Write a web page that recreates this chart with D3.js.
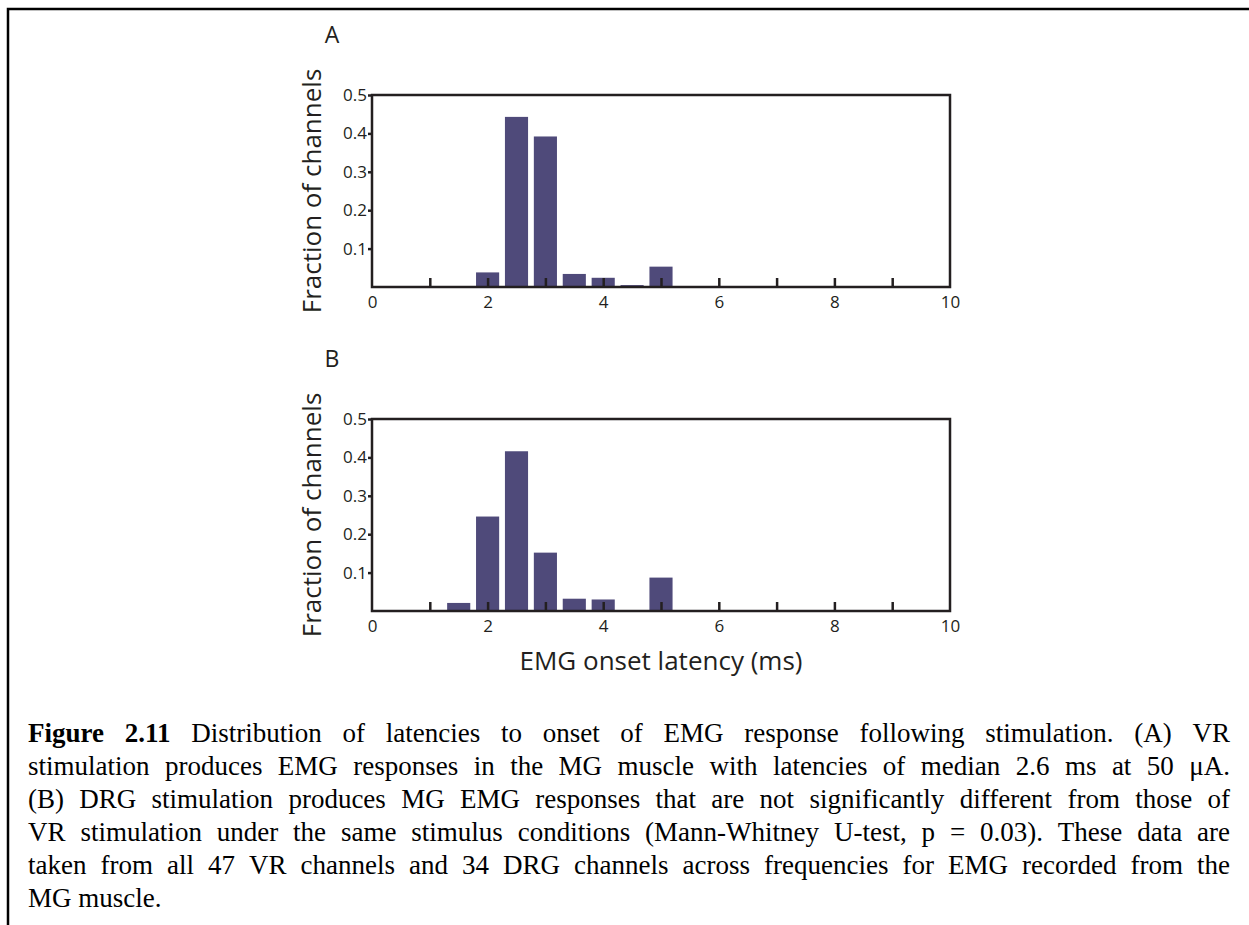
<!DOCTYPE html>
<html>
<head>
<meta charset="utf-8">
<script src="https://cdn.jsdelivr.net/npm/d3@7"></script>
<style>
  body { margin: 0; background: #fff; }
</style>
</head>
<body>
<div id="chart"></div>
<script>
// histogram bins (ms) and fraction of channels per bin
var binCenters = [1.5, 2, 2.5, 3, 3.5, 4, 4.5, 5];
var fractionVR = [0, 0.038, 0.443, 0.392, 0.034, 0.024, 0.005, 0.053];
var fractionDRG = [0.021, 0.246, 0.416, 0.152, 0.032, 0.030, 0, 0.087];
var panelNames = ["A", "B"];

var yTicks = [0.1, 0.2, 0.3, 0.4, 0.5];
var xLabelTicks = [0, 2, 4, 6, 8, 10];
var xInnerTicks = [1, 2, 3, 4, 5, 6, 7, 8, 9];

var yTitle = "Fraction of channels";
var xTitle = "EMG onset latency (ms)";

var captionLines = [
	"Figure 2.11 Distribution of latencies to onset of EMG response following stimulation. (A) VR",
	"stimulation produces EMG responses in the MG muscle with latencies of median 2.6 ms at 50 \u03bcA.",
	"(B) DRG stimulation produces MG EMG responses that are not significantly different from those of",
	"VR stimulation under the same stimulus conditions (Mann-Whitney U-test, p = 0.03). These data are",
	"taken from all 47 VR channels and 34 DRG channels across frequencies for EMG recorded from the",
	"MG muscle."
];

(function() {
	var W = 1249, H = 925;
	var ink = "#231f20";
	var barColor = "#4f4a7a";
	var sans = "'Open Sans', 'Noto Sans', sans-serif";

	var plotLeft = 372, plotW = 578, plotH = 192;
	var panelTops = [95, 419];
	var series = [fractionVR, fractionDRG];

	var svg = d3.select("#chart")
		.append("svg")
		.attr("width", W)
		.attr("height", H);

	// page border (left + top rule)
	svg.append("path")
		.attr("d", "M8," + H + "V9H" + W)
		.attr("fill", "none")
		.attr("stroke", "#000")
		.attr("stroke-width", 2.5);

	var x = d3.scaleLinear().domain([0, 10]).range([0, plotW]);
	var y = d3.scaleLinear().domain([0, 0.5]).range([plotH, 0]);

	panelTops.forEach(function(top, i) {
		var g = svg.append("g")
			.attr("transform", "translate(" + plotLeft + "," + top + ")");

		var data = binCenters.map(function(c, j) {
			return { c: c, v: series[i][j] };
		}).filter(function(d) { return d.v > 0; });

		g.selectAll("rect.bar")
			.data(data)
			.enter()
			.append("rect")
			.attr("class", "bar")
			.attr("x", function(d) { return x(d.c - 0.2); })
			.attr("width", function(d) { return x(d.c + 0.2) - x(d.c - 0.2); })
			.attr("y", function(d) { return y(d.v); })
			.attr("height", function(d) { return y(0) - y(d.v); })
			.attr("fill", barColor);

		// inner ticks along the bottom
		var inner = g.append("g")
			.attr("transform", "translate(0," + plotH + ")")
			.call(d3.axisBottom(x).tickValues(xInnerTicks).tickSize(-9).tickFormat(""));
		inner.select(".domain").remove();
		inner.selectAll("line").attr("stroke", ink).attr("stroke-width", 2.5);

		// x tick labels
		var xa = g.append("g")
			.attr("transform", "translate(0," + plotH + ")")
			.call(d3.axisBottom(x).tickValues(xLabelTicks).tickSize(0).tickPadding(9).tickFormat(d3.format("d")));
		xa.select(".domain").remove();
		xa.selectAll("text")
			.attr("font-family", sans)
			.attr("font-size", 17)
			.attr("fill", ink);

		// y axis
		var ya = g.append("g")
			.call(d3.axisLeft(y).tickValues(yTicks).tickSize(4).tickPadding(1).tickFormat(d3.format(".1f")));
		ya.select(".domain").remove();
		ya.selectAll("line").attr("stroke", ink).attr("stroke-width", 2.5);
		ya.selectAll("text")
			.attr("font-family", sans)
			.attr("font-size", 17)
			.attr("fill", ink);

		// frame
		g.append("rect")
			.attr("x", 0).attr("y", 0)
			.attr("width", plotW).attr("height", plotH)
			.attr("fill", "none")
			.attr("stroke", ink)
			.attr("stroke-width", 2.5);

		g.append("text")
			.attr("transform", "translate(-51," + (plotH / 2) + ") rotate(-90)")
			.attr("text-anchor", "middle")
			.attr("font-family", sans)
			.attr("font-size", 26)
			.attr("fill", ink)
			.text(yTitle);

		g.append("text")
			.attr("x", -40)
			.attr("y", -52)
			.attr("text-anchor", "middle")
			.attr("font-family", sans)
			.attr("font-size", 23)
			.attr("fill", ink)
			.text(panelNames[i]);
	});

	svg.append("text")
		.attr("x", plotLeft + plotW / 2)
		.attr("y", 670)
		.attr("text-anchor", "middle")
		.attr("font-family", sans)
		.attr("font-size", 26)
		.attr("fill", ink)
		.text(xTitle);

	// justified caption
	var capLeft = 28, capRight = 1230, capTop = 742, lineGap = 33;
	captionLines.forEach(function(line, li) {
		var words = line.split(" ");
		var t = svg.append("text")
			.attr("y", capTop + li * lineGap)
			.attr("font-family", "'Liberation Serif', 'Times New Roman', serif")
			.attr("font-size", 27)
			.attr("fill", "#000");
		var spans = words.map(function(w, wi) {
			return t.append("tspan")
				.attr("font-weight", (li === 0 && wi < 2) ? "bold" : "normal")
				.text(w);
		});
		var widths = spans.map(function(s) { return s.node().getComputedTextLength(); });
		var total = d3.sum(widths);
		var last = li === captionLines.length - 1;
		var gap = last ? 6.75 : (capRight - capLeft - total) / (words.length - 1);
		var pos = capLeft;
		spans.forEach(function(s, k) {
			s.attr("x", pos);
			pos += widths[k] + gap;
		});
	});
})();
</script>
</body>
</html>
